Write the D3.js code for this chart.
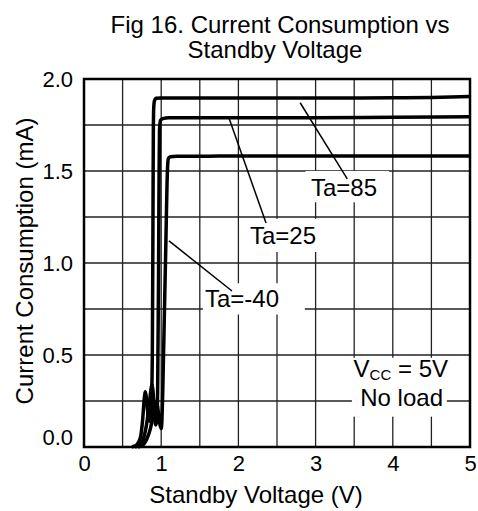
<!DOCTYPE html>
<html>
<head>
<meta charset="utf-8">
<script src="https://cdn.jsdelivr.net/npm/d3@7"></script>
<style>
  body { margin: 0; background: #fff; }
  svg { display: block; font-family: "Liberation Sans", Arial, sans-serif; }
</style>
</head>
<body>
<svg id="chart" width="478" height="511"></svg>
<script>
// ---- Data ----
const xTicks = [0, 1, 2, 3, 4, 5];
const yTicks = [0.0, 0.5, 1.0, 1.5, 2.0];
const xGrid = [0.5, 1, 1.5, 2, 2.5, 3, 3.5, 4, 4.5];
const yGrid = [0.25, 0.5, 0.75, 1.0, 1.25, 1.5, 1.75];

const x85 = [0.62, 0.68, 0.73, 0.76, 0.78, 0.795, 0.81, 0.83, 0.85, 0.87, 0.885, 0.893, 0.898, 0.903, 0.912, 0.935, 1.0, 2.0, 3.0, 4.0, 4.5, 5.0];
const y85 = [0.0, 0.01, 0.05, 0.15, 0.26, 0.30, 0.26, 0.17, 0.14, 0.2, 0.5, 1.2, 1.7, 1.84, 1.88, 1.895, 1.897, 1.897, 1.897, 1.898, 1.9, 1.905];

const x25 = [0.66, 0.72, 0.78, 0.82, 0.85, 0.87, 0.88, 0.895, 0.91, 0.93, 0.945, 0.955, 0.965, 0.972, 0.978, 0.99, 1.02, 1.1, 2.0, 3.0, 4.0, 5.0];
const y25 = [0.0, 0.01, 0.06, 0.15, 0.25, 0.32, 0.34, 0.3, 0.18, 0.12, 0.15, 0.35, 0.9, 1.45, 1.72, 1.775, 1.785, 1.79, 1.79, 1.79, 1.792, 1.795];

const x40 = [0.70, 0.76, 0.82, 0.86, 0.89, 0.92, 0.94, 0.96, 0.985, 1.0, 1.01, 1.02, 1.04, 1.06, 1.075, 1.085, 1.095, 1.12, 1.2, 1.5, 2.0, 3.0, 4.0, 5.0];
const y40 = [0.0, 0.01, 0.05, 0.1, 0.16, 0.22, 0.25, 0.2, 0.12, 0.1, 0.15, 0.3, 0.7, 1.1, 1.42, 1.54, 1.57, 1.578, 1.58, 1.58, 1.582, 1.582, 1.582, 1.582];

const seriesNames = ["Ta=85", "Ta=25", "Ta=-40"];

// ---- Layout ----
const svg = d3.select("#chart");
const L = 84, R = 470, T = 79, B = 447;
const x = d3.scaleLinear().domain([0, 5]).range([L, R]);
const y = d3.scaleLinear().domain([0, 2]).range([B, T]);
const FONT = 24, TICKFONT = 22;

// grid
const g = svg.append("g");
g.selectAll(".vg").data(xGrid).enter().append("line")
  .attr("x1", d => x(d)).attr("x2", d => x(d))
  .attr("y1", T).attr("y2", B)
  .attr("stroke", "#222").attr("stroke-width", 1.3);
g.selectAll(".hg").data(yGrid).enter().append("line")
  .attr("x1", L).attr("x2", R)
  .attr("y1", d => y(d)).attr("y2", d => y(d))
  .attr("stroke", "#222").attr("stroke-width", 1.3);

// white boxes behind labels (cover grid)
const boxes = [
  [x(2.87), y(1.50), x(3.95), y(1.33)],   // Ta=85
  [x(2.12), y(1.24), x(3.1), y(1.06)],    // Ta=25
  [x(1.54), y(0.89), x(2.86), y(0.72)],   // Ta=-40
  [x(3.47), y(0.485), x(4.7), y(0.165)]   // Vcc box
];
svg.selectAll(".box").data(boxes).enter().append("rect")
  .attr("x", d => d[0]).attr("y", d => d[1])
  .attr("width", d => d[2] - d[0]).attr("height", d => d[3] - d[1])
  .attr("fill", "#fff");

// curves
const line = d3.line().x(d => x(d[0])).y(d => y(d[1])).curve(d3.curveMonotoneX);
const series = [d3.zip(x85, y85), d3.zip(x25, y25), d3.zip(x40, y40)];
svg.selectAll(".curve").data(series).enter().append("path")
  .attr("d", line).attr("fill", "none")
  .attr("stroke", "#000").attr("stroke-width", 3.5)
  .attr("stroke-linejoin", "round");

// frame
svg.append("rect").attr("x", L).attr("y", T).attr("width", R - L).attr("height", B - T)
  .attr("fill", "none").attr("stroke", "#000").attr("stroke-width", 2.5);

// axes tick labels via d3 axes (no tick lines)
const xAxis = d3.axisBottom(x).tickValues(xTicks).tickFormat(d3.format("d")).tickSize(0).tickPadding(8);
const xa = svg.append("g").attr("transform", `translate(0,${B})`).call(xAxis);
xa.select(".domain").remove();
xa.selectAll("text").attr("font-size", TICKFONT).attr("fill", "#000").attr("font-family", "Liberation Sans, Arial, sans-serif");

const yAxis = d3.axisLeft(y).tickValues(yTicks).tickFormat(d3.format(".1f")).tickSize(0).tickPadding(11);
const ya = svg.append("g").attr("transform", `translate(${L},0)`).call(yAxis);
ya.select(".domain").remove();
ya.selectAll("text").attr("font-size", TICKFONT).attr("fill", "#000").attr("font-family", "Liberation Sans, Arial, sans-serif");
ya.selectAll(".tick").filter(d => d === 0).select("text").attr("dy", "-0.1em");

// titles
svg.append("text").attr("x", 280).attr("y", 33).attr("text-anchor", "middle")
  .attr("font-size", FONT).text("Fig 16. Current Consumption vs");
svg.append("text").attr("x", 275).attr("y", 58).attr("text-anchor", "middle")
  .attr("font-size", FONT).text("Standby Voltage");
svg.append("text").attr("x", 256).attr("y", 503).attr("text-anchor", "middle")
  .attr("font-size", FONT).text("Standby Voltage (V)");
svg.append("text").attr("transform", `translate(33,${(T + B) / 2 - 2}) rotate(-90)`)
  .attr("text-anchor", "middle").attr("font-size", FONT).text("Current Consumption (mA)");

// series labels with leader lines
const labelPos = [
  { t: seriesNames[0], tx: 2.94, ty: 1.364, l: [2.80, 1.871, 3.41, 1.457] },
  { t: seriesNames[1], tx: 2.15, ty: 1.103, l: [1.878, 1.788, 2.358, 1.217] },
  { t: seriesNames[2], tx: 1.567, ty: 0.761, l: [1.101, 1.12, 1.917, 0.848] }
];
labelPos.forEach(p => {
  svg.append("line").attr("x1", x(p.l[0])).attr("y1", y(p.l[1]))
    .attr("x2", x(p.l[2])).attr("y2", y(p.l[3]))
    .attr("stroke", "#000").attr("stroke-width", 1.5);
  svg.append("text").attr("x", x(p.tx)).attr("y", y(p.ty))
    .attr("font-size", FONT).text(p.t);
});

// Vcc note
const vt = svg.append("text").attr("x", 448).attr("y", 377).attr("font-size", FONT).attr("text-anchor", "end");
vt.append("tspan").text("V");
vt.append("tspan").attr("font-size", 15).attr("dy", 3).text("CC");
vt.append("tspan").attr("dy", -3).text(" = 5V");
svg.append("text").attr("x", 443).attr("y", 406).attr("text-anchor", "end")
  .attr("font-size", FONT).text("No load");
</script>
</body>
</html>
